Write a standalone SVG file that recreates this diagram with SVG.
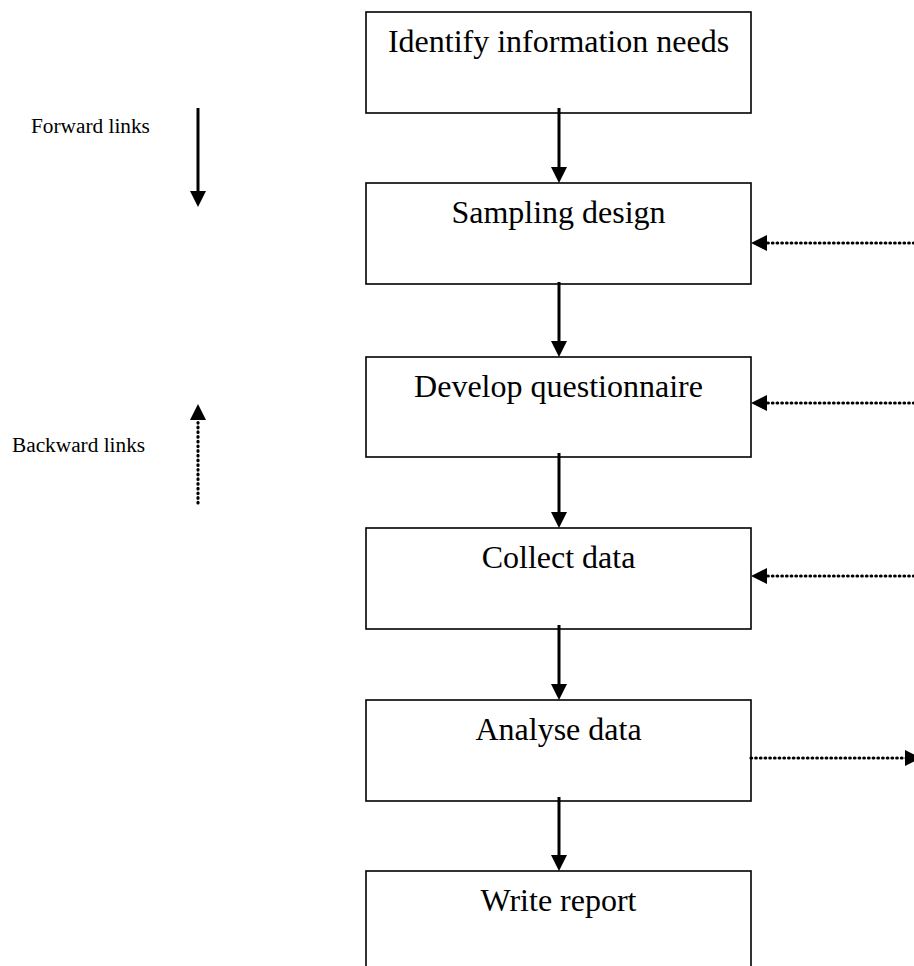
<svg xmlns="http://www.w3.org/2000/svg" width="914" height="966" viewBox="0 0 914 966">
<style>
  .box { fill: #ffffff; stroke: #000000; stroke-width: 1.6; }
  .lbl { font-family: "Liberation Serif", "Times New Roman", serif; font-size: 32px; fill: #000000; text-anchor: middle; }
  .leg { font-family: "Liberation Serif", "Times New Roman", serif; font-size: 21.3px; fill: #000000; }
  .fwd { stroke: #000000; stroke-width: 3; fill: none; marker-end: url(#head); }
  .bwd { stroke: #000000; stroke-width: 3.2; fill: none; stroke-linecap: round; stroke-dasharray: 0.6 4.1; marker-end: url(#head); }
</style>
<defs>
  <marker id="head" viewBox="0 0 16 16" markerWidth="16" markerHeight="16" markerUnits="userSpaceOnUse" refX="2" refY="8" orient="auto">
    <path d="M0,0 L16,8 L0,16 z" fill="#000000"/>
  </marker>
</defs>
<rect width="914" height="966" fill="#ffffff"/>

<g id="legend-forward">
  <text class="leg" x="31" y="133">Forward links</text>
</g>
<g id="legend-backward">
  <text class="leg" x="12" y="452">Backward links</text>
</g>

<g id="n1"><rect class="box" x="366" y="12" width="385" height="101"/><text class="lbl" x="558.5" y="52">Identify information needs</text></g>
<g id="n2"><rect class="box" x="366" y="183" width="385" height="101"/><text class="lbl" x="558.5" y="223">Sampling design</text></g>
<g id="n3"><rect class="box" x="366" y="357" width="385" height="100"/><text class="lbl" x="558.5" y="397">Develop questionnaire</text></g>
<g id="n4"><rect class="box" x="366" y="528" width="385" height="101"/><text class="lbl" x="558.5" y="568">Collect data</text></g>
<g id="n5"><rect class="box" x="366" y="700" width="385" height="101"/><text class="lbl" x="558.5" y="740">Analyse data</text></g>
<g id="n6"><rect class="box" x="366" y="871" width="385" height="120"/><text class="lbl" x="558.5" y="911">Write report</text></g>

<g id="connectors">
  <line class="fwd" x1="198" y1="108" x2="198" y2="193"/>
  <line class="bwd" x1="198" y1="503" x2="198" y2="418"/>

  <line class="fwd" x1="559" y1="108" x2="559" y2="169"/>
  <line class="fwd" x1="559" y1="282" x2="559" y2="343"/>
  <line class="fwd" x1="559" y1="453" x2="559" y2="514"/>
  <line class="fwd" x1="559" y1="625" x2="559" y2="686"/>
  <line class="fwd" x1="559" y1="797" x2="559" y2="857"/>

  <line class="bwd" x1="914" y1="243" x2="765" y2="243"/>
  <line class="bwd" x1="914" y1="403" x2="765" y2="403"/>
  <line class="bwd" x1="914" y1="576" x2="765" y2="576"/>
  <line class="bwd" x1="751" y1="758" x2="907" y2="758"/>
</g>
</svg>
